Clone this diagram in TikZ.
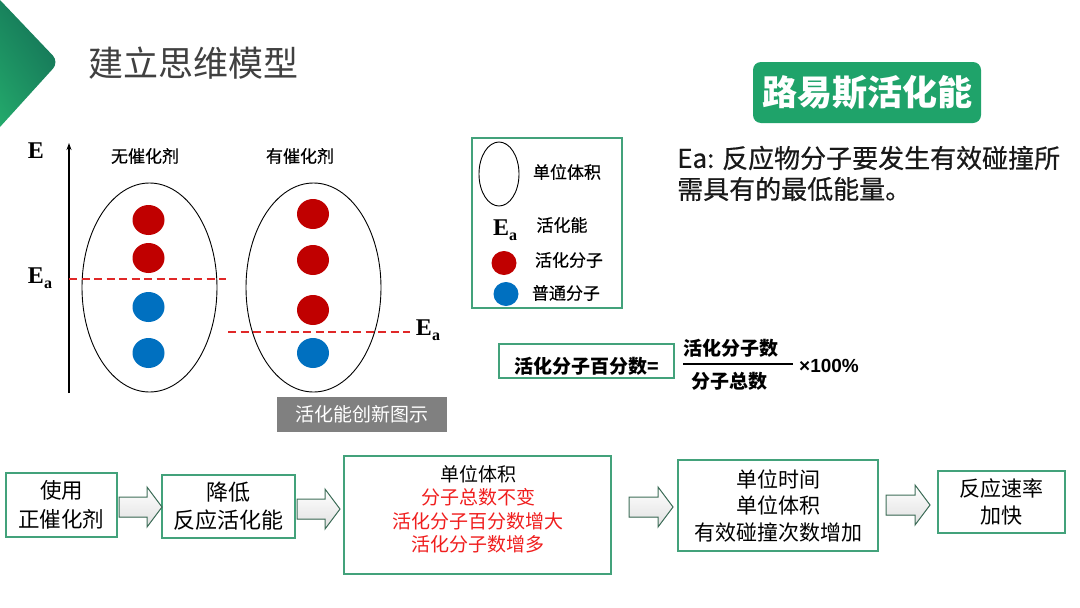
\documentclass[tikz,border=0pt]{standalone}
\usepackage{fontspec}
\setmainfont{Noto Sans CJK SC}
\newfontfamily\cjkmed{Noto Sans CJK SC}[FakeBold=0.5]
\newfontfamily\tms{Liberation Serif}
\newfontfamily\arl{Liberation Sans}
\usetikzlibrary{arrows.meta,shadings}
\definecolor{boxgreen}{HTML}{43A27B}
\definecolor{fillgreen}{HTML}{1FA36A}
\definecolor{molred}{HTML}{C00000}
\definecolor{molblue}{HTML}{0070C0}
\definecolor{dashred}{HTML}{E02828}
\definecolor{txtred}{HTML}{F01E1E}
\definecolor{titlegray}{HTML}{404040}
\definecolor{arrowedge}{HTML}{3F6F5A}
\definecolor{triLL}{RGB}{36,170,108}
\definecolor{triUR}{RGB}{18,106,84}
\definecolor{triUL}{RGB}{24,130,92}
\definecolor{triLR}{RGB}{28,140,96}
\newcommand\blockarr[3]{%
  \filldraw[arrowst] (#1,#3-10) -- (#2-15,#3-10) -- (#2-15,#3-20) -- (#2,#3) -- (#2-15,#3+20) -- (#2-15,#3+10) -- (#1,#3+10) -- cycle;}
\newcommand\Ea{{\tms\bfseries\fontsize{24}{24}\selectfont E\raisebox{-5pt}{\fontsize{16}{16}\selectfont a}}}
\begin{document}
\begin{tikzpicture}[x=1pt,y=-1pt,
  fs/.style 2 args={font=\fontsize{#1}{#2}\selectfont},
  ms/.style 2 args={font=\cjkmed\fontsize{#1}{#2}\selectfont},
  txt/.style={inner sep=0pt, align=center},
  flowbox/.style={draw=boxgreen, line width=1.4pt, inner sep=0pt, align=center},
  arrowst/.style={draw=arrowedge, line width=1pt, top color=white, bottom color=black!12},
  dashln/.style={draw=dashred, line width=1.8pt, dash pattern=on 8pt off 4.5pt},
  molr/.style={fill=molred},
  molb/.style={fill=molblue},
  cell/.style={draw=black, line width=0.9pt}
]
\useasboundingbox (0,0) rectangle (1080,608);
\fill[white] (0,0) rectangle (1080,608);

% header triangle
\shade[lower left=triLL, upper right=triUR, upper left=triUL, lower right=triLR]
  (0,0) [rounded corners=9pt] -- (59,62) [sharp corners] -- (0,127) -- cycle;
\node[txt, fs={35}{40}, text=titlegray, anchor=west] (title) at (88,63) {建立思维模型};

% energy axis
\coordinate (axbot) at (69,393);
\coordinate (axtop) at (69,143);
\draw[line width=1.3pt, -{Stealth[length=7pt,width=5pt]}] (axbot) -- (axtop);
\node[txt, anchor=center] (elab) at (36,151) {\tms\bfseries\fontsize{24}{24}\selectfont E};
\node[txt, ms={17}{20}] (nocat) at (145,156) {无催化剂};
\node[txt, ms={17}{20}] (withcat) at (300,156) {有催化剂};

% ellipses
\draw[cell] (149.5,287.5) ellipse [x radius=67.5, y radius=104.5];
\draw[cell] (313.5,287.5) ellipse [x radius=67.5, y radius=104.5];

% molecules left
\fill[molr] (148.5,220) ellipse [x radius=16, y radius=15];
\fill[molr] (148.5,258) ellipse [x radius=16, y radius=15];
\fill[molb] (148.5,307) ellipse [x radius=16, y radius=15];
\fill[molb] (148.5,353) ellipse [x radius=16, y radius=15];
% molecules right
\fill[molr] (313,214) ellipse [x radius=16, y radius=15];
\fill[molr] (313,260) ellipse [x radius=16, y radius=15];
\fill[molr] (313,310) ellipse [x radius=16, y radius=15];
\fill[molb] (313,353) ellipse [x radius=16, y radius=15];

% Ea lines
\coordinate (ea1a) at (69,279);
\coordinate (ea1b) at (226,279);
\draw[dashln] (ea1a) -- (ea1b);
\node[txt] (ealeft) at (40,278) {\Ea};
\coordinate (ea2a) at (228,332);
\coordinate (ea2b) at (410,332);
\draw[dashln] (ea2a) -- (ea2b);
\node[txt] (earight) at (428,330) {\Ea};

\node[txt, fill=black!50, minimum width=170, minimum height=35, text=white, fs={19}{22}] (graybox) at (362,414.5) {活化能创新图示};

% legend
\node[draw=boxgreen, line width=1.2pt, minimum width=150, minimum height=170, inner sep=0pt] (legend) at (547,223) {};
\draw[cell] (499,174) ellipse [x radius=20, y radius=32];
\node[txt, ms={17}{20}] (lg1) at (567,172) {单位体积};
\node[txt] (lgea) at (505,230) {\Ea};
\node[txt, ms={17}{20}] (lg2) at (562,225) {活化能};
\fill[molr] (504,263) ellipse [x radius=12.5, y radius=12];
\node[txt, ms={17}{20}] (lg3) at (569,260) {活化分子};
\fill[molb] (506,294) ellipse [x radius=12.5, y radius=12];
\node[txt, ms={17}{20}] (lg4) at (566,293) {普通分子};

% Lewis box
\node[txt, fill=fillgreen, rounded corners=8pt, minimum width=228, minimum height=61, text=white, font=\bfseries\fontsize{35}{40}\selectfont] (lewis) at (867,92.5) {路易斯活化能};
\node[txt, anchor=west, ms={26}{30}, text=black!90] (def1) at (677,158) {Ea: 反应物分子要发生有效碰撞所};
\node[txt, anchor=west, ms={26}{30}, text=black!90] (def2) at (677,189) {需具有的最低能量。};

% formula
\node[draw=boxgreen, line width=1.2pt, minimum width=175, minimum height=34, inner sep=0pt] (fbox) at (586.5,361) {};
\node[txt, font=\bfseries\fontsize{19}{22}\selectfont] (flab) at (587,366) {活化分子百分数=};
\coordinate (fra) at (683,364);
\coordinate (frb) at (793,364);
\draw[line width=1.6pt] (fra) -- (frb);
\node[txt, font=\bfseries\fontsize{19}{22}\selectfont] (fnum) at (731,348) {活化分子数};
\node[txt, font=\bfseries\fontsize{19}{22}\selectfont] (fden) at (729,381) {分子总数};
\node[txt, anchor=west, font=\arl\bfseries\fontsize{19}{22}\selectfont] (fpct) at (799,366) {×100\%};

% flow
\node[flowbox, minimum width=111, minimum height=64, fs={21.5}{29}] (b1) at (61.5,505) {使用\\正催化剂};
\node[flowbox, minimum width=133, minimum height=63, fs={22}{28}] (b2) at (228.5,506.5) {降低\\反应活化能};
\node[flowbox, minimum width=267, minimum height=118] (b3) at (477.5,515) {};
\node[txt, fs={19}{23.5}] (b3t) at (478,509) {单位体积\\\textcolor{txtred}{分子总数不变}\\\textcolor{txtred}{活化分子百分数增大}\\\textcolor{txtred}{活化分子数增多}};
\node[flowbox, minimum width=200, minimum height=91, fs={21}{26.5}] (b4) at (778,505.5) {单位时间\\单位体积\\有效碰撞次数增加};
\node[flowbox, minimum width=127, minimum height=62, fs={21}{27}] (b5) at (1001.5,502) {反应速率\\加快};

\blockarr{119}{162}{507}
\blockarr{297}{340}{509}
\blockarr{629}{673}{507}
\blockarr{886}{930}{505}
\end{tikzpicture}
\end{document}
